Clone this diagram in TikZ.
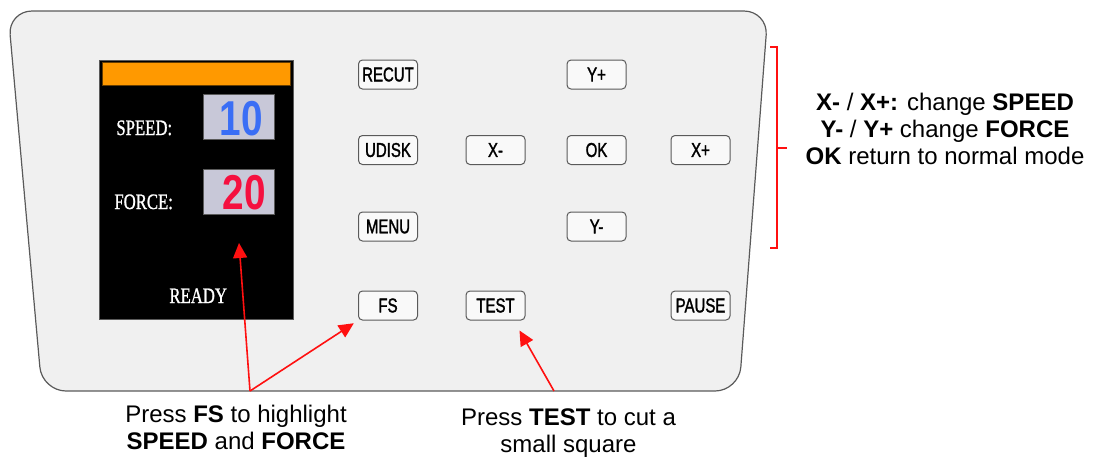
\documentclass[tikz,border=0pt]{standalone}
\usepackage{fontspec}
\setmainfont{Liberation Sans}
\newfontfamily\lcdfont[FakeStretch=0.76,FakeBold=1]{Liberation Serif}
\newfontfamily\keyfont[FakeStretch=0.75,FakeBold=1.5]{Liberation Sans}
\newfontfamily\valfont[FakeStretch=0.79]{Liberation Sans Bold}
\usetikzlibrary{arrows.meta}
\definecolor{panelgray}{HTML}{F0F0F0}
\definecolor{edgegray}{HTML}{5A5A5A}
\definecolor{lcdorange}{HTML}{FF9900}
\definecolor{valgray}{HTML}{C8C8D8}
\definecolor{valblue}{HTML}{3A6EF5}
\definecolor{valred}{HTML}{F5103F}
\definecolor{callred}{HTML}{FF1010}
\begin{document}
\begin{tikzpicture}[x=1pt,y=-1pt,>=Triangle,thick]
    \tikzstyle{keyA}=[rectangle, draw=edgegray, fill=white!60!panelgray, line width=1pt, rounded corners=4pt, minimum width=59pt, minimum height=29pt, inner sep=0pt, font=\keyfont\fontsize{20}{20}\selectfont]
    \tikzstyle{valA}=[rectangle, draw=edgegray, fill=valgray, line width=0.6pt, minimum width=71pt, minimum height=45pt, inner sep=0pt]
    \tikzstyle{lcdlabel}=[text=white, inner sep=0pt, anchor=base west, font=\lcdfont\fontsize{22}{22}\selectfont]
    \tikzstyle{note}=[align=center, inner sep=0pt, anchor=north, font=\fontsize{24}{27}\selectfont]
    \tikzstyle{callout}=[->, draw=callred, line width=1.6pt, arrows={-Triangle[length=15pt,width=14pt]}]
    \useasboundingbox (0,0) rectangle (1100,459);
    % panel
    \draw[fill=panelgray, draw=edgegray, line width=1.2pt, rounded corners=24pt]
      (8,11) -- (768,11) -- (739,391) -- (42,391) -- cycle;
    % screen
    \node[rectangle, draw=edgegray, fill=black, line width=0.8pt, minimum width=194pt, minimum height=259pt, inner sep=0pt] (lcd) at (196,189.5) {};
    \node[rectangle, draw=black!60!lcdorange, fill=lcdorange, line width=0.5pt, minimum width=188pt, minimum height=23pt, inner sep=0pt] (bar) at (196,73.5) {};
    \node[valA] (speedbox) at (238.5,116.5) {};
    \node[valA] (forcebox) at (238.5,191.5) {};
    \node[anchor=base east, inner sep=0pt, text=valblue, font=\valfont\fontsize{49}{49}\selectfont] (speedval) at ([xshift=-11pt,yshift=4pt]speedbox.south east) {10};
    \node[anchor=base east, inner sep=0pt, text=valred, font=\valfont\fontsize{49}{49}\selectfont] (forceval) at ([xshift=-8pt,yshift=5pt]forcebox.south east) {20};
    \node[lcdlabel] (speedlbl) at (116,135) {SPEED:};
    \node[lcdlabel] (forcelbl) at (114,209) {FORCE:};
    \node[lcdlabel] (readylbl) at (169,303) {READY};
    % keys
    \node[keyA] (recut) at (388,74.5) {RECUT};
    \node[keyA] (udisk) at (388,150) {UDISK};
    \node[keyA] (menu) at (388,226.5) {MENU};
    \node[keyA] (fs) at (388,305.5) {FS};
    \node[keyA] (xminus) at (495.5,150) {X-};
    \node[keyA] (test) at (495.5,305.5) {TEST};
    \node[keyA] (yplus) at (596.5,74.5) {Y+};
    \node[keyA] (ok) at (596.5,150) {OK};
    \node[keyA] (yminus) at (596.5,226.5) {Y-};
    \node[keyA] (xplus) at (700.5,150) {X+};
    \node[keyA] (pause) at (700.5,305.5) {PAUSE};
    % bracket and notes
    \draw[draw=callred, line width=1.2pt] (770,47) -| (777,148) -- (787,148) (777,148) |- (770,248);
    \node[note] (xynote) at (945,92.5) {\textbf{X-} / \textbf{X+:} change \textbf{SPEED}\\\textbf{Y-} / \textbf{Y+} change \textbf{FORCE}\\\textbf{OK} return to normal mode};
    \node[note] (fsnote) at (236,404.5) {Press \textbf{FS} to highlight\\\textbf{SPEED} and \textbf{FORCE}};
    \node[note] (testnote) at (568.5,408) {Press \textbf{TEST} to cut a\\small square};
    % callouts
    \coordinate (fstail) at (250,391);
    \coordinate (lcdtip) at (239,243);
    \coordinate (testtail) at (554,391);
    \draw[callout] (fstail) -- (lcdtip);
    \draw[callout, shorten >=5pt] (fstail) -- (fs.south west);
    \draw[callout] (testtail) -- ([xshift=-6pt,yshift=-10pt]test.south east);
\end{tikzpicture}
\end{document}
